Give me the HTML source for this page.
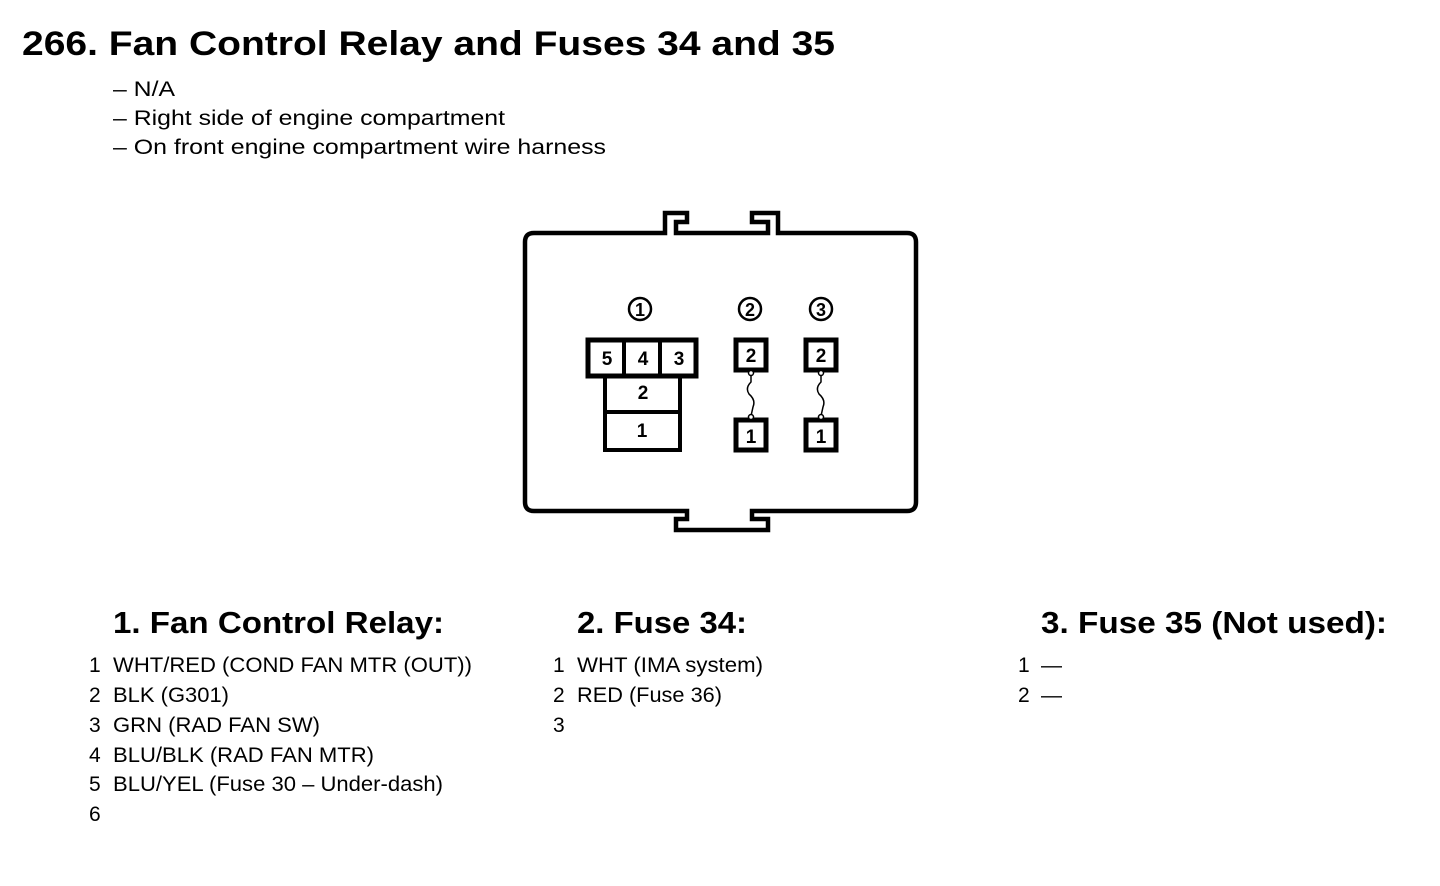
<!DOCTYPE html>
<html><head><meta charset="utf-8"><style>
html,body{margin:0;padding:0;background:#fff;}
svg{display:block;}
text{font-family:"Liberation Sans",Arial,sans-serif;fill:#000;}
</style></head><body>
<svg width="1440" height="886" viewBox="0 0 1440 886" xmlns="http://www.w3.org/2000/svg">
<text x="22" y="55" font-size="34" font-weight="bold" textLength="813" lengthAdjust="spacingAndGlyphs">266. Fan Control Relay and Fuses 34 and 35</text>
<text x="113" y="96" font-size="21" textLength="62" lengthAdjust="spacingAndGlyphs">– N/A</text>
<text x="113" y="125" font-size="21" textLength="392" lengthAdjust="spacingAndGlyphs">– Right side of engine compartment</text>
<text x="113" y="154" font-size="21" textLength="493" lengthAdjust="spacingAndGlyphs">– On front engine compartment wire harness</text>

<g fill="none" stroke="#000" stroke-width="4.5" stroke-linejoin="miter">
<path d="M665,233 L665,213 L687,213 L687,222 L676,222 L676,233 L768,233 L768,222 L752,222 L752,213 L778,213 L778,233 L907,233 Q916,233 916,242 L916,502 Q916,511 907,511 L752,511 L752,519 L768,519 L768,530 L676,530 L676,519 L687,519 L687,511 L534,511 Q525,511 525,502 L525,242 Q525,233 534,233 Z"/>
</g>
<g fill="none" stroke="#000" stroke-width="2.5">
<circle cx="640" cy="309" r="11"/><circle cx="750" cy="309" r="11"/><circle cx="821" cy="309" r="11"/>
</g>
<g font-size="18" font-weight="bold" text-anchor="middle">
<text x="640" y="316">1</text><text x="750" y="316">2</text><text x="821" y="316">3</text>
</g>
<g fill="none" stroke="#000">
<rect x="588" y="340" width="108" height="36" stroke-width="5"/>
<line x1="624" y1="340" x2="624" y2="376" stroke-width="4"/>
<line x1="660" y1="340" x2="660" y2="376" stroke-width="4"/>
<rect x="605" y="376" width="75" height="74" stroke-width="4"/>
<line x1="605" y1="412" x2="680" y2="412" stroke-width="4"/>
<rect x="736" y="340" width="30" height="30" stroke-width="5"/>
<rect x="736" y="420" width="30" height="30" stroke-width="5"/>
<rect x="806" y="340" width="30" height="30" stroke-width="5"/>
<rect x="806" y="420" width="30" height="30" stroke-width="5"/>
<path d="M751,374 L751,382 Q745,388 749,394 Q756,400 753,407 L751,416" stroke-width="1.5"/>
<path d="M821,374 L821,382 Q815,388 819,394 Q826,400 823,407 L821,416" stroke-width="1.5"/>
<circle cx="751" cy="373" r="2.5" fill="#fff" stroke-width="1.5"/>
<circle cx="751" cy="417" r="2.5" fill="#fff" stroke-width="1.5"/>
<circle cx="821" cy="373" r="2.5" fill="#fff" stroke-width="1.5"/>
<circle cx="821" cy="417" r="2.5" fill="#fff" stroke-width="1.5"/>
</g>
<g font-size="19" font-weight="bold" text-anchor="middle">
<text x="607" y="365">5</text><text x="643" y="365">4</text><text x="679" y="365">3</text>
<text x="643" y="399">2</text><text x="642" y="437">1</text>
<text x="751" y="362">2</text><text x="751" y="443">1</text>
<text x="821" y="362">2</text><text x="821" y="443">1</text>
</g>

<g font-size="31" font-weight="bold">
<text x="113" y="633" textLength="331" lengthAdjust="spacingAndGlyphs">1. Fan Control Relay:</text>
<text x="577" y="633" textLength="170" lengthAdjust="spacingAndGlyphs">2. Fuse 34:</text>
<text x="1041" y="633" textLength="346" lengthAdjust="spacingAndGlyphs">3. Fuse 35 (Not used):</text>
</g>
<g font-size="21">
<text x="89" y="672">1</text><text x="113" y="672" textLength="359" lengthAdjust="spacingAndGlyphs">WHT/RED (COND FAN MTR (OUT))</text>
<text x="89" y="702">2</text><text x="113" y="702" textLength="116" lengthAdjust="spacingAndGlyphs">BLK (G301)</text>
<text x="89" y="732">3</text><text x="113" y="732" textLength="207" lengthAdjust="spacingAndGlyphs">GRN (RAD FAN SW)</text>
<text x="89" y="762">4</text><text x="113" y="762" textLength="261" lengthAdjust="spacingAndGlyphs">BLU/BLK (RAD FAN MTR)</text>
<text x="89" y="791">5</text><text x="113" y="791" textLength="330" lengthAdjust="spacingAndGlyphs">BLU/YEL (Fuse 30 – Under-dash)</text>
<text x="89" y="821">6</text>
<text x="553" y="672">1</text><text x="577" y="672" textLength="186" lengthAdjust="spacingAndGlyphs">WHT (IMA system)</text>
<text x="553" y="702">2</text><text x="577" y="702" textLength="145" lengthAdjust="spacingAndGlyphs">RED (Fuse 36)</text>
<text x="553" y="732">3</text>
<text x="1018" y="672">1</text><text x="1041" y="672">—</text>
<text x="1018" y="702">2</text><text x="1041" y="702">—</text>
</g>
</svg>
</body></html>
